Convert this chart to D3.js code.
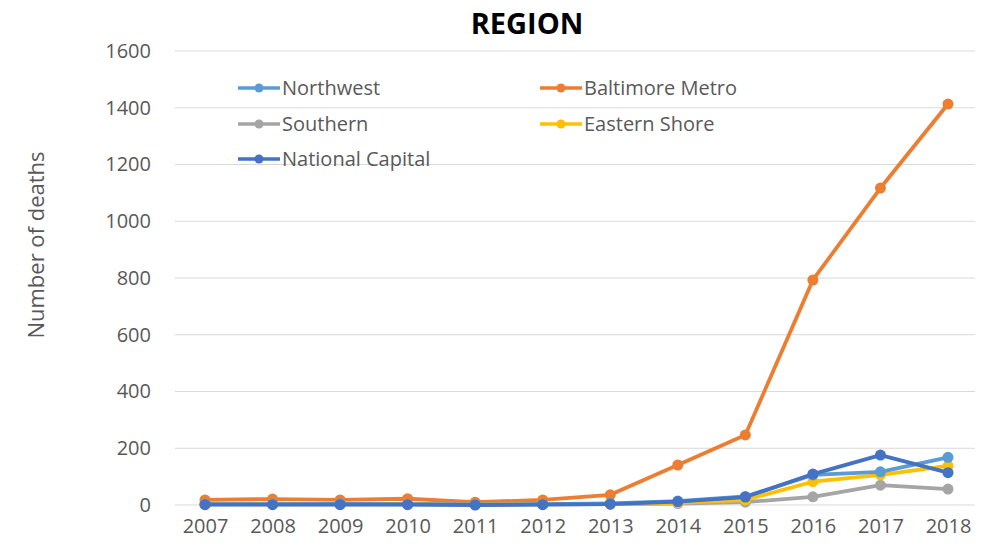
<!DOCTYPE html>
<html><head><meta charset="utf-8">
<script src="https://cdn.jsdelivr.net/npm/d3@7"></script>
<style>body{margin:0;background:#fff;} text{font-family:"Open Sans","Liberation Sans",sans-serif;}</style>
</head><body><svg id="c" width="983" height="547"></svg>
<script>
const years = ["2007","2008","2009","2010","2011","2012","2013","2014","2015","2016","2017","2018"];
const yTicks = [0,200,400,600,800,1000,1200,1400,1600];
const northwest = [3,3,4,3,2,3,6,14,30,106,117,168];
const baltimoreMetro = [18,21,18,22,10,18,36,141,247,793,1117,1413];
const southern = [2,2,2,2,1,2,3,5,10,29,70,56];
const easternShore = [3,3,3,3,2,3,4,8,18,82,106,138];
const nationalCapital = [1,1,1,1,0,1,3,12,28,109,176,114];
const seriesNames = ["Northwest","Baltimore Metro","Southern","Eastern Shore","National Capital"];
const seriesColors = ["#5B9BD5","#ED7D31","#A5A5A5","#FFC000","#4472C4"];
const seriesData = [northwest, baltimoreMetro, southern, easternShore, nationalCapital];
const drawOrder = [1,2,3,0,4];

const svg = d3.select("#c");
const x = d3.scalePoint().domain(years).range([205,948]);
const y = d3.scaleLinear().domain([0,1600]).range([505,51]);

svg.append("text").attr("x",527).attr("y",34).attr("text-anchor","middle")
  .attr("font-size",29).attr("font-weight","bold").attr("fill","#000").text("REGION");

svg.append("g").selectAll("line").data(yTicks).join("line")
  .attr("x1",175).attr("x2",975).attr("y1",d=>y(d)).attr("y2",d=>y(d))
  .attr("stroke","#d9d9d9").attr("stroke-width",1);

const ya = svg.append("g").attr("transform","translate(151,0)")
  .call(d3.axisLeft(y).tickValues(yTicks).tickFormat(d3.format("d")).tickSize(0).tickPadding(0));
ya.select(".domain").remove();
ya.selectAll("text").attr("font-size",20).attr("fill","#595959").style("font-family","'Open Sans',sans-serif");

const xa = svg.append("g").attr("transform","translate(0,526)")
  .call(d3.axisBottom(x).tickSize(0).tickPadding(0));
xa.select(".domain").remove();
xa.selectAll("text").attr("font-size",20).attr("fill","#595959").attr("dy","0.35em").style("font-family","'Open Sans',sans-serif");

svg.append("text").attr("transform","translate(36,245) rotate(-90)").attr("text-anchor","middle")
  .attr("dy","0.35em").attr("font-size",22).attr("fill","#595959").text("Number of deaths");

const line = d3.line().x((d,i)=>x(years[i])).y(d=>y(d));
drawOrder.forEach(k=>{
  const g = svg.append("g");
  g.append("path").datum(seriesData[k]).attr("d",line).attr("fill","none")
    .attr("stroke",seriesColors[k]).attr("stroke-width",3.8).attr("stroke-linejoin","round");
  g.selectAll("circle").data(seriesData[k]).join("circle")
    .attr("cx",(d,i)=>x(years[i])).attr("cy",d=>y(d)).attr("r",5.5).attr("fill",seriesColors[k]);
});

const legendPos = [[238,88],[540,88],[238,124],[540,124],[238,159]];
seriesNames.forEach((n,k)=>{
  const [lx,ly] = legendPos[k];
  svg.append("line").attr("x1",lx).attr("x2",lx+42).attr("y1",ly).attr("y2",ly)
    .attr("stroke",seriesColors[k]).attr("stroke-width",3.5);
  svg.append("circle").attr("cx",lx+21).attr("cy",ly).attr("r",4.5).attr("fill",seriesColors[k]);
  svg.append("text").attr("x",lx+44).attr("y",ly).attr("dy","0.35em")
    .attr("font-size",20).attr("fill","#595959").text(n);
});
</script></body></html>
